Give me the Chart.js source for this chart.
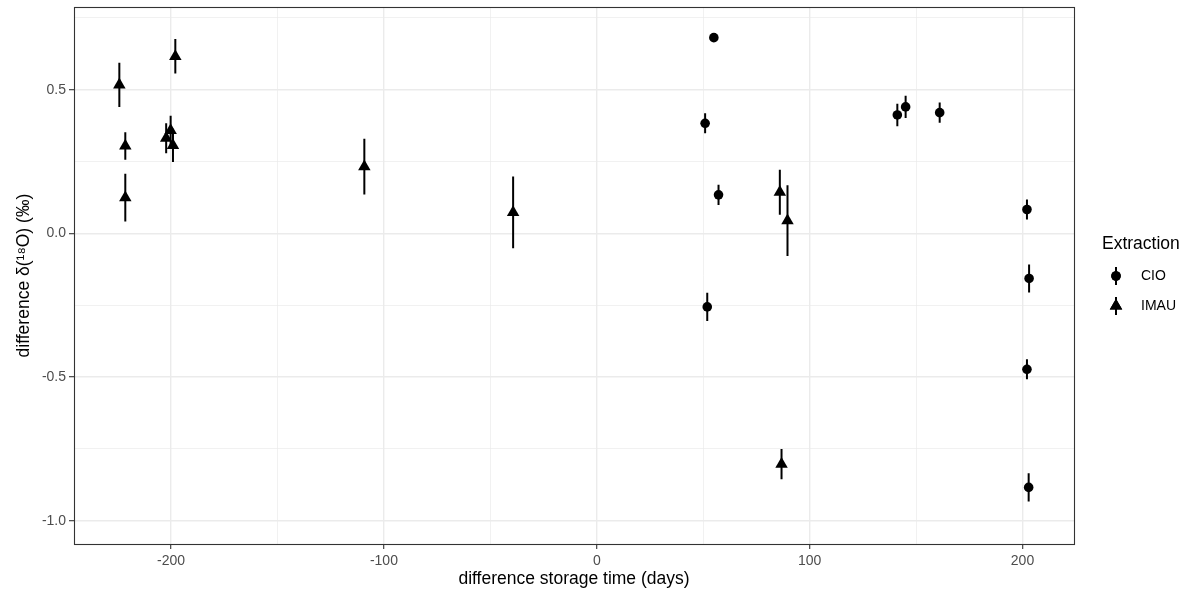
<!DOCTYPE html>
<html><head><meta charset="utf-8">
<script src="https://cdn.jsdelivr.net/npm/chart.js@4.4.1/dist/chart.umd.min.js"></script>
<style>html,body{margin:0;padding:0;background:#fff;} #wrap{width:1190px;height:593px;position:relative;}</style>
</head><body><div id="wrap"><canvas id="c"></canvas></div>
<script>
const seriesNames = ['CIO', 'IMAU'];
const cioX   = [55.0, 50.9, 57.2, 141.2, 145.1, 161.1, 202.1, 203.1, 51.9, 202.1, 202.9];
const cioY   = [0.681, 0.383, 0.134, 0.412, 0.440, 0.420, 0.083, -0.157, -0.256, -0.473, -0.884];
const cioErr = [0.010, 0.035, 0.035, 0.039, 0.039, 0.035, 0.035, 0.049, 0.049, 0.035, 0.049];
const imauX   = [-224.3, -221.5, -221.5, -198.0, -202.3, -200.2, -199.1, -109.2, -39.3, 86.0, 89.6, 86.8];
const imauY   = [0.517, 0.304, 0.124, 0.616, 0.331, 0.358, 0.306, 0.232, 0.073, 0.143, 0.044, -0.803];
const imauErr = [0.077, 0.048, 0.083, 0.060, 0.052, 0.051, 0.058, 0.097, 0.125, 0.078, 0.123, 0.053];
const xMajorTicks = [-200, -100, 0, 100, 200];
const xTickLabels = ['-200', '-100', '0', '100', '200'];
const xMinorTicks = [-150, -50, 50, 150];
const yMajorTicks = [-1.0, -0.5, 0.0, 0.5];
const yTickLabels = ['-1.0', '-0.5', '0.0', '0.5'];
const yMinorTicks = [-0.75, -0.25, 0.25, 0.75];
const xTitle = 'difference storage time (days)';
const yTitle = 'difference δ(¹⁸O) (‰)';
const legendTitle = 'Extraction';

const FONT = '"Liberation Sans", Arial, Helvetica, sans-serif';

function build(xs, ys, es) {
  return xs.map((x, i) => ({ x: x, y: ys[i], lo: ys[i] - es[i], hi: ys[i] + es[i] }));
}
function setTicks(major, minor) {
  return function (scale) {
    scale.ticks = major.concat(minor).sort((a, b) => a - b).map(v => ({ value: v }));
  };
}
function isMajor(list, v) { return list.some(m => Math.abs(m - v) < 1e-9); }

const errorBars = {
  id: 'errorBars',
  beforeDatasetsDraw(chart) {
    const { ctx, chartArea, scales } = chart;
    ctx.save();
    ctx.beginPath();
    ctx.rect(chartArea.left, chartArea.top, chartArea.right - chartArea.left, chartArea.bottom - chartArea.top);
    ctx.clip();
    ctx.strokeStyle = '#000';
    ctx.lineWidth = 2;
    chart.data.datasets.forEach(ds => {
      ds.data.forEach(p => {
        const px = scales.x.getPixelForValue(p.x);
        ctx.beginPath();
        ctx.moveTo(px, scales.y.getPixelForValue(p.lo));
        ctx.lineTo(px, scales.y.getPixelForValue(p.hi));
        ctx.stroke();
      });
    });
    ctx.restore();
  }
};

const panelBorder = {
  id: 'panelBorder',
  afterDatasetsDraw(chart) {
    const { ctx, chartArea } = chart;
    ctx.save();
    ctx.strokeStyle = '#333333';
    ctx.lineWidth = 1.1;
    ctx.strokeRect(Math.round(chartArea.left) + 0.5, Math.round(chartArea.top) + 0.5,
      Math.round(chartArea.right - chartArea.left), Math.round(chartArea.bottom - chartArea.top));
    ctx.restore();
  }
};

const sideLegend = {
  id: 'sideLegend',
  afterDraw(chart) {
    const { ctx } = chart;
    ctx.save();
    ctx.fillStyle = '#000';
    ctx.textBaseline = 'middle';
    ctx.textAlign = 'left';
    ctx.font = '17.5px ' + FONT;
    ctx.fillText(legendTitle, 1102, 244);
    const keyX = 1116, keyYs = [276, 306];
    chart.data.datasets.forEach((ds, i) => {
      const y = keyYs[i];
      ctx.strokeStyle = '#000';
      ctx.lineWidth = 2;
      ctx.beginPath();
      ctx.moveTo(keyX, y - 9);
      ctx.lineTo(keyX, y + 9);
      ctx.stroke();
      ctx.fillStyle = '#000';
      Chart.helpers.drawPoint(ctx, { pointStyle: ds.pointStyle, radius: ds.pointRadius, borderWidth: 0, rotation: 0 }, keyX, y);
      ctx.fill();
      ctx.font = '14px ' + FONT;
      ctx.fillStyle = '#000';
      ctx.fillText(seriesNames[i], 1141, y + 0.5);
    });
    ctx.restore();
  }
};

new Chart(document.getElementById('c'), {
  type: 'scatter',
  data: {
    datasets: [
      { label: seriesNames[0], data: build(cioX, cioY, cioErr), pointStyle: 'circle', pointRadius: 4.8,
        backgroundColor: '#000', borderColor: '#000', borderWidth: 0 },
      { label: seriesNames[1], data: build(imauX, imauY, imauErr), pointStyle: 'triangle', pointRadius: 7.2,
        backgroundColor: '#000', borderColor: '#000', borderWidth: 0 }
    ]
  },
  options: {
    responsive: true,
    maintainAspectRatio: false,
    animation: false,
    events: [],
    layout: { padding: { top: 6, right: 116, left: 0, bottom: 0 } },
    plugins: { legend: { display: false }, tooltip: { enabled: false } },
    scales: {
      x: {
        type: 'linear', min: -245.6, max: 224.2,
        afterBuildTicks: setTicks(xMajorTicks, xMinorTicks),
        afterFit(scale) { scale.height = 49; scale.paddingLeft = 0; scale.paddingRight = 0; },
        ticks: {
          autoSkip: false, maxRotation: 0, padding: 4, color: '#4D4D4D',
          font: { family: FONT, size: 14 },
          callback(v) { const i = xMajorTicks.findIndex(m => Math.abs(m - v) < 1e-9); return i >= 0 ? xTickLabels[i] : ''; }
        },
        grid: {
          color: '#EBEBEB',
          lineWidth: (c) => (c.tick && isMajor(xMajorTicks, c.tick.value)) ? 1.4 : 0.7,
          tickColor: (c) => (c.tick && isMajor(xMajorTicks, c.tick.value)) ? '#333333' : 'rgba(0,0,0,0)',
          tickLength: 5, tickWidth: 1.1
        },
        border: { display: false },
        title: { display: true, text: xTitle, color: '#000', font: { family: FONT, size: 17.5 }, padding: { top: 0, bottom: 3 } }
      },
      y: {
        type: 'linear', min: -1.081, max: 0.787,
        afterBuildTicks: setTicks(yMajorTicks, yMinorTicks),
        afterFit(scale) { scale.width = 74; scale.paddingTop = 0; scale.paddingBottom = 0; },
        ticks: {
          autoSkip: false, padding: 3, color: '#4D4D4D',
          font: { family: FONT, size: 14 },
          callback(v) { const i = yMajorTicks.findIndex(m => Math.abs(m - v) < 1e-9); return i >= 0 ? yTickLabels[i] : ''; }
        },
        grid: {
          color: '#EBEBEB',
          lineWidth: (c) => (c.tick && isMajor(yMajorTicks, c.tick.value)) ? 1.4 : 0.7,
          tickColor: (c) => (c.tick && isMajor(yMajorTicks, c.tick.value)) ? '#333333' : 'rgba(0,0,0,0)',
          tickLength: 5, tickWidth: 1.1
        },
        border: { display: false },
        title: { display: true, text: yTitle, color: '#000', font: { family: FONT, size: 17.5 }, padding: { top: 13.5, bottom: 0 } }
      }
    }
  },
  plugins: [errorBars, panelBorder, sideLegend]
});
</script>
</body></html>
